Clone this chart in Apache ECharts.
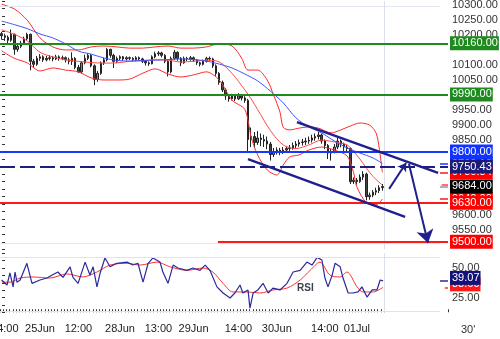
<!DOCTYPE html>
<html><head><meta charset="utf-8">
<script src="https://cdn.jsdelivr.net/npm/echarts@6/dist/echarts.min.js"></script>
<style>html,body{margin:0;padding:0;background:#fff}#c{width:500px;height:339px}</style>
</head><body><div id="c"></div>
<script>
// ---------------- data ----------------
const NCAT = 140;
const timeLabels = [[1,'14:00'],[12,'25Jun'],[24,'12:00'],[37,'28Jun'],[49,'13:00'],[60,'29Jun'],[74,'14:00'],[86,'30Jun'],[101,'14:00'],[111,'01Jul']];
// [open, close, low, high]
const ohlc = [
[10192,10185,10172,10198],[10185,10180,10168,10192],[10180,10170,10160,10186],[10170,10190,10165,10206],[10190,10140,10122,10192],
[10140,10150,10132,10158],[10150,10160,10144,10168],[10160,10175,10155,10182],[10175,10190,10170,10195],[10190,10100,10070,10192],
[10100,10090,10078,10108],[10090,10110,10085,10118],[10110,10115,10102,10124],[10115,10105,10098,10120],[10105,10110,10100,10118],
[10110,10112,10103,10120],[10112,10108,10100,10118],[10108,10115,10104,10122],[10115,10110,10102,10120],[10110,10112,10104,10119],
[10112,10105,10096,10116],[10105,10100,10090,10112],[10100,10110,10088,10130],[10110,10080,10074,10114],[10080,10065,10062,10088],
[10065,10095,10060,10100],[10095,10110,10090,10122],[10110,10120,10104,10126],[10120,10085,10080,10124],[10085,10040,10021,10090],
[10040,10060,10032,10068],[10060,10095,10055,10100],[10095,10105,10088,10112],[10105,10140,10100,10144],[10140,10120,10112,10142],
[10120,10100,10078,10125],[10100,10110,10094,10116],[10110,10115,10104,10120],[10115,10108,10102,10118],[10108,10112,10103,10117],
[10112,10110,10104,10116],[10110,10106,10100,10114],[10106,10112,10102,10117],[10112,10108,10101,10116],[10108,10100,10094,10112],
[10100,10095,10086,10104],[10095,10092,10085,10100],[10092,10115,10090,10120],[10115,10125,10110,10132],[10125,10128,10118,10134],
[10128,10120,10113,10132],[10120,10100,10094,10124],[10100,10065,10050,10104],[10065,10110,10060,10116],[10110,10130,10105,10138],
[10130,10110,10102,10133],[10110,10095,10084,10114],[10095,10110,10092,10116],[10110,10108,10101,10115],[10108,10112,10102,10118],
[10112,10105,10098,10116],[10105,10095,10088,10108],[10095,10090,10083,10099],[10090,10100,10086,10106],[10100,10110,10096,10115],
[10110,10108,10102,10116],[10108,10085,10078,10112],[10085,10060,10052,10090],[10060,10030,10022,10064],[10030,10005,9998,10036],
[10005,9985,9972,10010],[9985,9975,9966,9990],[9975,9985,9970,9992],[9985,9975,9968,9990],[9975,9985,9972,9994],
[9985,9978,9970,9990],[9978,9970,9962,9984],[9970,9840,9795,9975],[9840,9850,9815,9880],[9850,9830,9812,9865],
[9830,9845,9822,9868],[9845,9840,9818,9860],[9840,9835,9815,9856],[9835,9825,9808,9850],[9825,9790,9770,9832],
[9790,9800,9782,9812],[9800,9805,9790,9814],[9805,9800,9788,9812],[9800,9805,9792,9815],[9805,9810,9797,9818],
[9810,9812,9800,9822],[9812,9820,9806,9830],[9820,9825,9812,9835],[9825,9830,9816,9840],[9830,9832,9820,9842],
[9832,9835,9822,9846],[9835,9838,9826,9850],[9838,9845,9830,9856],[9845,9850,9836,9860],[9850,9855,9840,9866],
[9855,9835,9826,9860],[9835,9820,9808,9840],[9820,9795,9775,9825],[9795,9800,9770,9808],[9800,9815,9794,9825],
[9815,9835,9808,9848],[9835,9825,9814,9840],[9825,9815,9802,9830],[9815,9810,9798,9822],[9810,9700,9692,9815],
[9700,9705,9692,9714],[9705,9700,9690,9712],[9700,9715,9696,9724],[9715,9725,9705,9735],[9725,9650,9638,9730],
[9650,9655,9640,9664],[9655,9665,9648,9672],[9665,9670,9655,9680],[9670,9680,9662,9688],[9680,9684,9670,9692]
];
const bbUpper = [[0,10290],[4,10274],[8,10237],[12,10178],[16,10148],[20,10138],[24,10138],[28,10148],[32,10151],[36,10148],[40,10144],[44,10144],[48,10148],[52,10151],[56,10144],[60,10144],[64,10148],[68,10158],[72,10151],[75,10111],[77,10071],[80,10071],[83,10038],[85,9988],[87,9931],[88,9881],[90,9872],[93,9878],[96,9882],[99,9878],[103,9862],[106,9872],[109,9885],[112,9895],[115,9888],[117,9862],[118,9812],[119,9730.84]];
const bbMid = [[0,10205],[4,10190],[8,10168],[12,10130],[16,10115],[20,10105],[24,10100],[28,10096],[32,10094],[36,10095],[40,10100],[44,10102],[48,10105],[52,10104],[56,10098],[60,10100],[64,10104],[68,10098],[72,10060],[76,10005],[78,9975],[80,9940],[84,9870],[88,9822],[92,9810],[96,9822],[100,9838],[104,9832],[108,9822],[110,9800],[112,9775],[114,9745],[116,9718],[119,9688]];
const bbLower = [[0,10135],[4,10110],[8,10095],[12,10068],[16,10078],[20,10071],[24,10065],[28,10045],[32,10038],[36,10038],[40,10041],[44,10060],[48,10075],[52,10058],[56,10048],[60,10055],[64,10065],[68,10038],[72,9971],[76,9940],[78,9848],[80,9789],[83,9739],[86,9722],[88,9755],[90,9782],[93,9789],[96,9805],[100,9815],[104,9805],[108,9785],[110,9730],[111,9683],[114,9630],[117,9623],[119,9642]];
const maBlue = [[0,10234],[4,10222],[8,10209],[12,10191],[16,10178],[20,10158],[24,10134],[28,10124],[32,10111],[36,10103],[40,10101],[44,10103],[48,10104],[52,10106],[56,10108],[60,10106],[64,10101],[68,10091],[72,10078],[76,10058],[80,10035],[84,10001],[88,9962],[92,9912],[96,9882],[100,9862],[104,9835],[108,9812],[112,9795],[116,9779],[119,9760.16]];
const rsi = [[0,39.8],[1.7,35.6],[2.6,45.8],[3.6,34],[4.2,46.6],[4.8,38],[5.8,39.8],[7.9,54],[9.5,37],[9.8,37.5],[12,39.8],[14.2,41.5],[15.8,44],[17.6,46.6],[19.2,42],[21.4,51],[22.3,42],[23.9,37],[26.1,55],[27.6,44],[28.6,51],[29.8,34],[30.8,45.8],[32.3,58.5],[33.9,51],[36,54],[39.2,55],[41,52.5],[42.6,54],[44.2,38],[45.8,54],[47.3,58.5],[49.5,55],[50.4,46.6],[52,37],[53.6,52.5],[55.1,50],[57.9,48],[59.8,50],[62,48],[63.6,52.5],[65.1,48],[67.3,34],[69.2,28.8],[71.4,24.6],[72.9,28.8],[74.5,35.6],[75.4,28.8],[77,31.4],[77.6,16],[78.6,28.8],[80.1,31.4],[81.7,37],[83.3,28.8],[84.8,33],[87,31.4],[89.2,37],[91.1,46.6],[93.3,48],[95.4,55],[97,52.5],[98.6,59],[100.1,56.8],[101,42],[102,34],[103.3,44],[104.2,54],[105.8,51],[106.7,41.5],[108.3,28.8],[109.8,28.8],[111.4,29.7],[112.6,34],[114.2,25.4],[115.8,31.4],[117.3,31.4],[118.3,39.8],[119.2,39.07]];
const rsiSignal = [[0,38],[2.6,38],[5.8,41.5],[9.8,42.4],[15.1,41.5],[20.4,45],[25.4,42.4],[29.8,46.6],[33.9,52.5],[39.2,54],[43.3,52.5],[48.6,55],[52.6,51],[57.9,48],[63,50],[66,46.6],[69.2,37],[72.3,29.7],[76.7,29.7],[80.8,28.8],[84.8,31.4],[89.2,33],[93.3,39.8],[96.4,48],[99.5,55],[102.6,44],[105.8,42.4],[107.9,46.6],[111.1,34],[112.9,29.7],[116.1,29.7],[119.2,33.6]];
const mainTickLabels = [10300,10250,10200,10100,10050,9950,9900,9850,9600,9550];
const rsiTickLabels = [50,25];
const levels = [10160, 9990, 9800, 9750.43, 9630, 9500];
const lastPrice = 9684;
const channelUpper = [[92.3,9898],[136.4,9729]];
const channelLower = [[77,9775],[126.1,9583]];
const arrowUp = [[121.1,9676],[126.4,9762]];
const arrowDown = [[127.3,9759],[133.25,9496]];
const targetStart = 67.6;

// ---------------- helpers ----------------
const cats = Array.from({length: NCAT}, () => '');
timeLabels.forEach(([i, t]) => { cats[i] = t; });
const LAST = 119.5, EDGE = 139.5, MK = 137;
const FONT = 'Liberation Sans, Arial, sans-serif';
const last = a => a[a.length - 1][1];
function lbl(text, bg, dy) {
  return {show: true, position: 'end', distance: 2, formatter: text, color: '#fff', backgroundColor: bg,
    padding: [1, 1, 0, 2], fontSize: 11, lineHeight: 13, fontFamily: FONT, offset: [0, dy || 0]};
}
function seg(p0, p1, color, width, type, label, arrow) {
  return [
    {coord: p0, symbol: 'none', lineStyle: {color: color, width: width, type: type || 'solid', opacity: 1}, label: label || {show: false}},
    {coord: p1, symbol: arrow ? 'arrow' : 'none', symbolSize: arrow || 1}
  ];
}
const GREEN = '#1f8a1f', BLUE = '#1538ff', NAVY = '#1e1e80', RED = '#ff1a1a', CH = '#20208c';
const levelStyle = [
  [GREEN, 'solid', GREEN], [GREEN, 'solid', GREEN], [BLUE, 'solid', '#1133ff'],
  [NAVY, [15, 5], '#1c1c78'], [RED, 'solid', '#ff0000'], [RED, 'solid', '#ff0000']
];
const mainMarks = [
  seg([-0.5, 10284], [MK, 10284], '#e3e7ef', 1),
  seg([-0.5, 9494], [MK, 9494], '#e3e7ef', 1),
  seg([LAST, 9475], [LAST, 10300], '#d9e0ea', 1),
  seg([MK + 0.5, last(bbMid)], [EDGE, last(bbMid)], '#ff4040', 1.5),
  seg([MK, last(maBlue)], [EDGE, last(maBlue)], BLUE, 1.5, null, lbl(last(maBlue).toFixed(2), '#1133ff')),
  seg([MK, last(bbUpper)], [EDGE, last(bbUpper)], RED, 1.5, null, lbl(last(bbUpper).toFixed(2), '#ff0000')),
  seg([MK, last(bbLower)], [EDGE, last(bbLower)], RED, 1.5, null, lbl(last(bbLower).toFixed(2), '#ff0000')),
  seg([MK, lastPrice], [EDGE, lastPrice], '#999', 1.5, null, lbl(lastPrice.toFixed(2), '#000')),
];
levels.forEach((v, k) => {
  const st = levelStyle[k];
  const x0 = (v === 9500) ? targetStart : -0.5;
  mainMarks.push(seg([x0, v], [EDGE, v], st[0], 2, st[1], lbl(v.toFixed(2), st[2])));
});
mainMarks.push(seg(channelUpper[0], channelUpper[1], CH, 2.5));
mainMarks.push(seg(channelLower[0], channelLower[1], CH, 2.5));
mainMarks.push(seg(arrowUp[0], arrowUp[1], CH, 2, null, null, 8));
mainMarks.push(seg(arrowDown[0], arrowDown[1], CH, 2, null, null, 13));

const rsiMarks = [
  seg([-0.5, 59.3], [MK, 59.3], '#dfe4ec', 1),
  seg([-0.5, 13.6], [MK, 13.6], '#dfe4ec', 1),
  seg([LAST, 12.5], [LAST, 62.5], '#d9e0ea', 1),
  seg([MK + 1.5, last(rsiSignal)], [EDGE, last(rsiSignal)], '#ff3030', 1.5, null, lbl(last(rsiSignal).toFixed(2), '#ff1a1a', -3)),
  seg([MK, last(rsi)], [EDGE, last(rsi)], '#2a2a9a', 1.5, null, lbl(last(rsi).toFixed(2), '#12127a', -3)),
];

const yLab = (list, extra) => Object.assign({margin: 6, fontSize: 11, fontFamily: FONT, color: '#333',
  formatter: v => list.indexOf(v) >= 0 ? v.toFixed(2) : ''}, extra || {});

const chart = echarts.init(document.getElementById('c'), null, {renderer: 'canvas'});
chart.setOption({
  animation: false,
  backgroundColor: '#fff',
  title: [
    {text: "30'", left: 461, top: 324, padding: 0, textStyle: {fontSize: 11, fontWeight: 'normal', color: '#333', fontFamily: FONT}},
    {text: 'RSI', left: 297, top: 283, padding: 0, textStyle: {fontSize: 10, fontWeight: 'bold', color: '#3a4050', fontFamily: FONT}}
  ],
  grid: [
    {left: 0, width: 448, top: 1.2, height: 248.1, containLabel: false, outerBoundsMode: 'none'},
    {left: 0, width: 448, top: 253.25, height: 59, containLabel: false, outerBoundsMode: 'none'}
  ],
  xAxis: [
    {type: 'category', gridIndex: 0, data: cats, boundaryGap: true, show: false},
    {type: 'value', gridIndex: 0, min: -0.5, max: EDGE, show: false},
    {type: 'category', gridIndex: 1, data: cats, boundaryGap: true,
      axisLine: {show: false},
      axisTick: {show: true, inside: true, length: 3, interval: i => i <= 120, lineStyle: {color: '#333'}},
      axisLabel: {interval: 0, margin: 11, fontSize: 11, color: '#222', fontFamily: FONT},
      splitLine: {show: false}},
    {type: 'value', gridIndex: 1, min: -0.5, max: EDGE, show: false}
  ],
  yAxis: [
    {type: 'value', gridIndex: 0, position: 'right', offset: -2, min: 9475, max: 10300, interval: 25,
      axisLine: {show: false}, axisTick: {show: true, length: 3, lineStyle: {color: '#333'}},
      axisLabel: yLab(mainTickLabels, {verticalAlign: 'top', lineHeight: 7}), splitLine: {show: false}},
    {type: 'value', gridIndex: 1, position: 'right', offset: -2, min: 12.5, max: 62.5, interval: 6.25,
      axisLine: {show: false}, axisTick: {show: true, length: 3, lineStyle: {color: '#333'}},
      axisLabel: yLab(rsiTickLabels), splitLine: {show: false}}
  ],
  series: [
    {type: 'line', xAxisIndex: 1, yAxisIndex: 0, data: bbUpper, showSymbol: false, smooth: 0.3,
      lineStyle: {color: '#ff2a2a', width: 1}, silent: true},
    {type: 'line', xAxisIndex: 1, yAxisIndex: 0, data: bbMid, showSymbol: false, smooth: 0.3,
      lineStyle: {color: '#ff4a4a', width: 1}, silent: true},
    {type: 'line', xAxisIndex: 1, yAxisIndex: 0, data: bbLower, showSymbol: false, smooth: 0.3,
      lineStyle: {color: '#ff2a2a', width: 1}, silent: true},
    {type: 'candlestick', xAxisIndex: 0, yAxisIndex: 0, data: ohlc, barWidth: 2, silent: true,
      itemStyle: {color: '#888', color0: '#444', borderColor: '#222', borderColor0: '#222', borderWidth: 1}},
    {type: 'line', xAxisIndex: 1, yAxisIndex: 0, data: maBlue, showSymbol: false, smooth: 0.3, clip: false,
      lineStyle: {color: '#3d55ff', width: 1}, silent: true,
      markLine: {silent: true, animation: false, symbol: ['none', 'none'], data: mainMarks}},
    {type: 'line', xAxisIndex: 3, yAxisIndex: 1, data: rsiSignal, showSymbol: false, smooth: 0.3,
      lineStyle: {color: '#ff3030', width: 1}, silent: true},
    {type: 'line', xAxisIndex: 3, yAxisIndex: 1, data: rsi, showSymbol: false, clip: false,
      lineStyle: {color: '#2a2a9a', width: 1.2}, silent: true,
      markLine: {silent: true, animation: false, symbol: ['none', 'none'], data: rsiMarks}}
  ]
});
</script>
</body></html>
